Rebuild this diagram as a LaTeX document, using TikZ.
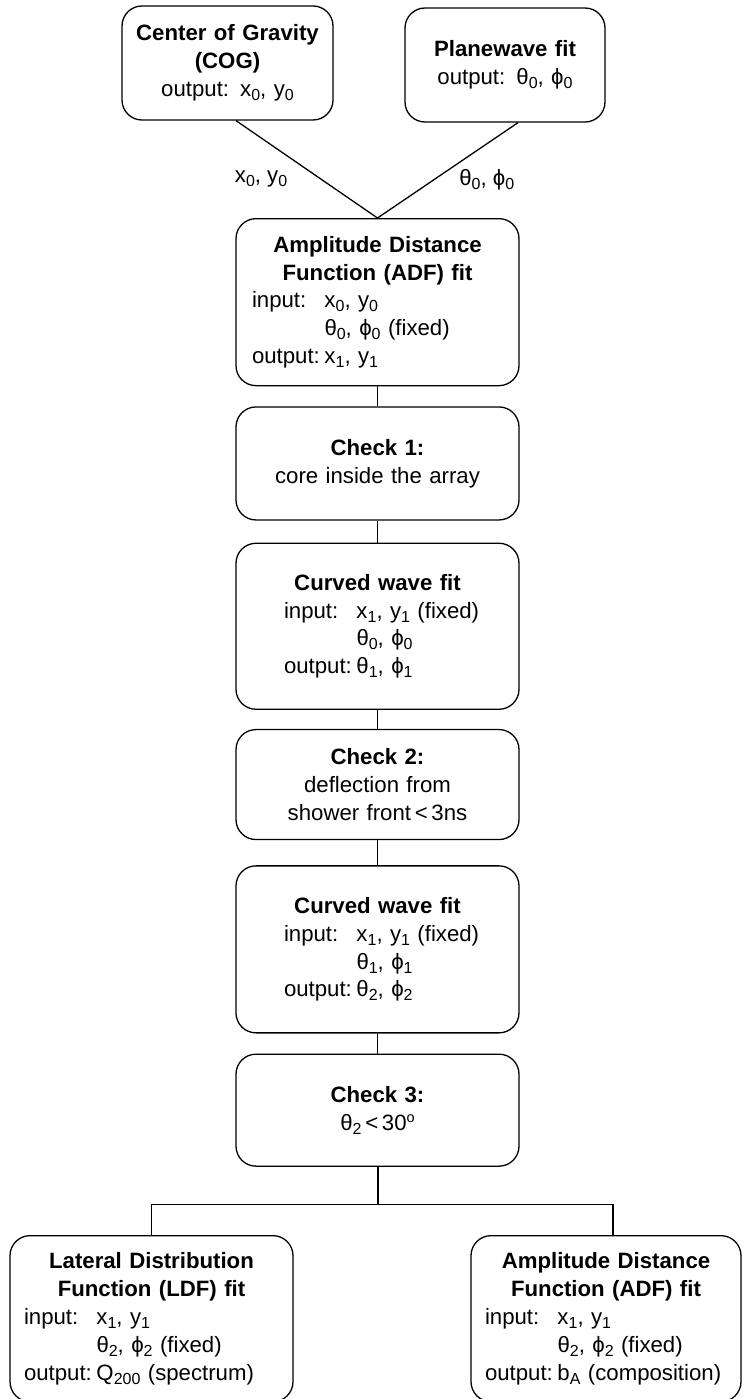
\documentclass[tikz,border=0pt]{standalone}
\usepackage{fontspec}
\setmainfont{Liberation Sans}
\usetikzlibrary{positioning}
\newcommand\lo[1]{\raisebox{-4pt}{\fontsize{16}{16}\selectfont #1}}
\newcommand\hi[1]{\raisebox{7.5pt}{\fontsize{14.5}{14.5}\selectfont #1}}
\newcommand\lft[2]{\makebox[\hsize][l]{\hspace*{#1}#2}}
\newcommand\lbl[1]{\makebox[72.5pt][l]{#1}}
\tikzset{
	flowbox/.style={
		draw, line width=1.3pt, rounded corners=20pt,
		inner xsep=0pt, inner ysep=0pt, align=center,
		font=\fontsize{22.2}{27.8}\selectfont
	},
	stagebox/.style={flowbox, text width=283pt},
	link/.style={line width=1.3pt},
	linklabel/.style={inner sep=0pt, font=\fontsize{22.2}{27.8}\selectfont}
}
\begin{document}
\begin{tikzpicture}[x=1pt,y=-1pt]
	\useasboundingbox (0,0) rectangle (744,1399);
	\clip (0,0) rectangle (744,1399);
	\node[flowbox, text width=211pt, minimum height=114pt] (cog) at (227.5,63)
		{\textbf{Center of Gravity}\\\textbf{(COG)}\\output: x\lo{0}, y\lo{0}};
	\node[flowbox, text width=200pt, minimum height=114pt] (plane) at (505,65)
		{\textbf{Planewave fit}\\output: θ\lo{0}, ϕ\lo{0}};
	\coordinate (merge) at (377.5,218);
	\node[stagebox, minimum height=167pt, anchor=north] (adf) at (merge)
		{\textbf{Amplitude Distance}\\\textbf{Function (ADF) fit}\\
		\lft{16pt}{\lbl{input:}x\lo{0}, y\lo{0}}\\
		\lft{16pt}{\lbl{}θ\lo{0}, ϕ\lo{0} (fixed)}\\
		\lft{16pt}{\lbl{output:}x\lo{1}, y\lo{1}}};
	\node[stagebox, minimum height=113pt] (check1) [below=20pt of adf]
		{\textbf{Check 1:}\\core inside the array};
	\node[stagebox, minimum height=166pt] (curve1) [below=22pt of check1]
		{\textbf{Curved wave fit}\\
		\lft{48pt}{\lbl{input:}x\lo{1}, y\lo{1} (fixed)}\\
		\lft{48pt}{\lbl{}θ\lo{0}, ϕ\lo{0}}\\
		\lft{48pt}{\lbl{output:}θ\lo{1}, ϕ\lo{1}}};
	\node[stagebox, minimum height=110pt] (check2) [below=19pt of curve1]
		{\textbf{Check 2:}\\deflection from\\shower front\,<\,3ns};
	\node[stagebox, minimum height=167pt] (curve2) [below=25pt of check2]
		{\textbf{Curved wave fit}\\
		\lft{48pt}{\lbl{input:}x\lo{1}, y\lo{1} (fixed)}\\
		\lft{48pt}{\lbl{}θ\lo{1}, ϕ\lo{1}}\\
		\lft{48pt}{\lbl{output:}θ\lo{2}, ϕ\lo{2}}};
	\node[stagebox, minimum height=112pt] (check3) [below=20pt of curve2]
		{\textbf{Check 3:}\\θ\lo{2}\,<\,30\hi{o}};
	\coordinate (split) at ([yshift=-38pt]check3.south);
	\node[stagebox, minimum height=166pt, anchor=north] (ldf) at (151.5,1235)
		{\textbf{Lateral Distribution}\\\textbf{Function (LDF) fit}\\
		\lft{14pt}{\lbl{input:}x\lo{1}, y\lo{1}}\\
		\lft{14pt}{\lbl{}θ\lo{2}, ϕ\lo{2} (fixed)}\\
		\lft{14pt}{\lbl{output:}Q\lo{200} (spectrum)}};
	\node[flowbox, text width=270pt, minimum height=166pt, anchor=north] (adfb) at (606,1235)
		{\textbf{Amplitude Distance}\\\textbf{Function (ADF) fit}\\
		\lft{14pt}{\lbl{input:}x\lo{1}, y\lo{1}}\\
		\lft{14pt}{\lbl{}θ\lo{2}, ϕ\lo{2} (fixed)}\\
		\lft{14pt}{\lbl{output:}b\lo{A} (composition)}};
	% inputs of the first fit
	\draw[link] ([xshift=8.5pt]cog.south) -- node[linklabel, pos=0.6, left=33pt] (xylabel) {x\lo{0}, y\lo{0}} (merge);
	\draw[link] ([xshift=13pt]plane.south) -- node[linklabel, pos=0.6, right=25pt] (tplabel) {θ\lo{0}, ϕ\lo{0}} (merge);
	% main line
	\draw[link] (adf) -- (check1);
	\draw[link] (check1) -- (curve1);
	\draw[link] (curve1) -- (check2);
	\draw[link] (check2) -- (curve2);
	\draw[link] (curve2) -- (check3);
	\draw[link, line width=2pt] (check3) -- (split);
	\draw[link] (ldf.north) |- (split) -| ([xshift=7pt]adfb.north);
\end{tikzpicture}
\end{document}
